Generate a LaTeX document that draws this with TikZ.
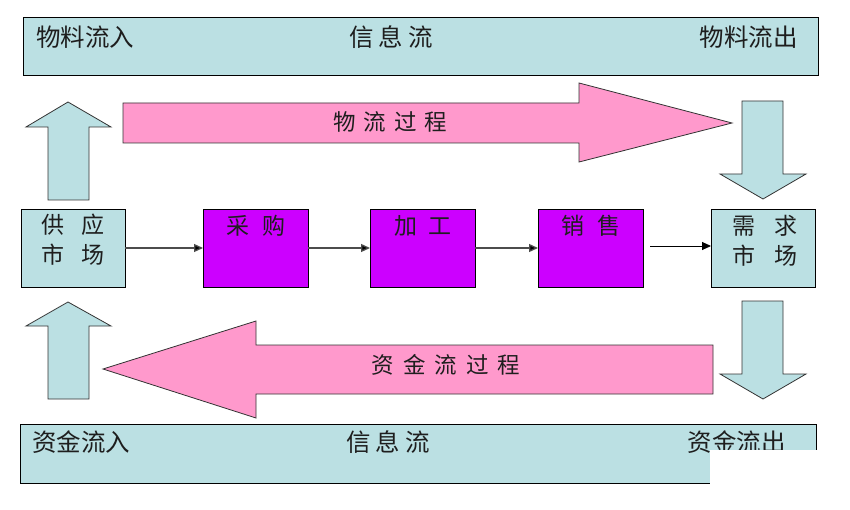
\documentclass[tikz,border=0pt]{standalone}
\usepackage{fontspec}
\setmainfont{Noto Sans CJK SC}
\usetikzlibrary{arrows.meta}
\definecolor{lblue}{RGB}{187,224,227}
\definecolor{lpink}{RGB}{255,153,204}
\definecolor{lpurple}{RGB}{204,0,255}
\definecolor{txt}{RGB}{30,30,30}
\tikzset{
  bar/.style={draw=black, line width=0.9pt, fill=lblue, inner sep=0pt, outer sep=0pt},
  mkt/.style={draw=black, line width=0.9pt, fill=lblue, inner sep=0pt, outer sep=0pt, minimum width=104pt, minimum height=78pt},
  proc/.style={draw=black, line width=0.9pt, fill=lpurple, inner sep=0pt, outer sep=0pt, minimum width=105pt, minimum height=78pt},
  bluearrow/.style={draw=black!80, line width=0.8pt, fill=lblue, line join=miter},
  pinkarrow/.style={draw=black!80, line width=0.8pt, fill=lpink, line join=miter},
  lbl/.style={inner sep=0pt, text=txt, font=\fontsize{23}{26}\selectfont},
  barlbl/.style={inner sep=0pt, text=txt, font=\fontsize{24.5}{27}\selectfont},
  flow/.style={line width=1.3pt, draw=black!70, -{Triangle[length=9pt,width=8pt,fill=black]}},
}
\begin{document}
\begin{tikzpicture}[x=1pt,y=-1pt]
\useasboundingbox (0,0) rectangle (850,510);
% top and bottom bars
\node[bar, minimum width=795pt, minimum height=58pt] (topbar) at (420.5,46) {};
\node[bar, minimum width=796pt, minimum height=59pt] (botbar) at (418,453.5) {};
\node[barlbl, anchor=west] (t1) at (36,37) {物料流入};
\node[barlbl] (t2) at (391,37) {信\hspace{5pt}息\hspace{5pt}流};
\node[barlbl, anchor=east] (t3) at (798,37) {物料流出};
\node[barlbl, anchor=west] (b1) at (32,442) {资金流入};
\node[barlbl] (b2) at (388,442) {信\hspace{5pt}息\hspace{5pt}流};
\node[barlbl, anchor=east] (b3) at (786,442) {资金流出};
% white patch covering the corner
\fill[white] (710,450) rectangle (850,510);
% block arrows
\path[bluearrow] (48,200) -- (48,127) -- (26,127) -- (68,102) -- (111,127) -- (89,127) -- (89,200) -- cycle;
\path[bluearrow] (48,399) -- (48,326) -- (26,326) -- (68,302) -- (111,326) -- (89,326) -- (89,399) -- cycle;
\path[bluearrow] (742,101) -- (783,101) -- (783,174) -- (806,174) -- (763,199) -- (720,174) -- (742,174) -- cycle;
\path[bluearrow] (742,301) -- (783,301) -- (783,374) -- (806,374) -- (763,399) -- (720,374) -- (742,374) -- cycle;
\path[pinkarrow] (123,103) -- (579,103) -- (579,83) -- (732,123) -- (579,162) -- (579,143) -- (123,143) -- cycle;
\path[pinkarrow] (713,345) -- (256,345) -- (256,321) -- (103,369) -- (256,418) -- (256,394) -- (713,394) -- cycle;
\node[lbl, font=\fontsize{22.5}{24}\selectfont] (p1) at (390,122) {物\hspace{8pt}流\hspace{8pt}过\hspace{8pt}程};
\node[lbl, font=\fontsize{22.5}{24}\selectfont] (p2) at (446,365) {资\hspace{9pt}金\hspace{9pt}流\hspace{9pt}过\hspace{9pt}程};
% middle row
\node[mkt] (gy) at (73,248) {};
\node[proc] (cg) at (255.5,248) {};
\node[proc] (jg) at (422.5,248) {};
\node[proc] (xs) at (590.5,248) {};
\node[mkt] (xq) at (763,248) {};
\node[lbl] (gyt1) at (73,225) {供\hspace{18pt}应};
\node[lbl] (gyt2) at (73,255) {市\hspace{18pt}场};
\node[lbl] (xqt1) at (765,226) {需\hspace{19pt}求};
\node[lbl] (xqt2) at (765,256) {市\hspace{19pt}场};
\node[lbl] (cgt) at (256,226) {采\hspace{14pt}购};
\node[lbl] (jgt) at (423,226) {加\hspace{12pt}工};
\node[lbl] (xst) at (591,226) {销\hspace{13pt}售};
\coordinate (s0) at (650,246);
\draw[flow] (gy.east |- 0,248) -- (cg.west |- 0,248);
\draw[flow] (cg.east |- 0,248) -- (jg.west |- 0,248);
\draw[flow] (jg.east |- 0,248) -- (xs.west |- 0,248);
\draw[flow, line width=0.9pt, draw=black] (s0) -- (xq.west |- s0);
\end{tikzpicture}
\end{document}
